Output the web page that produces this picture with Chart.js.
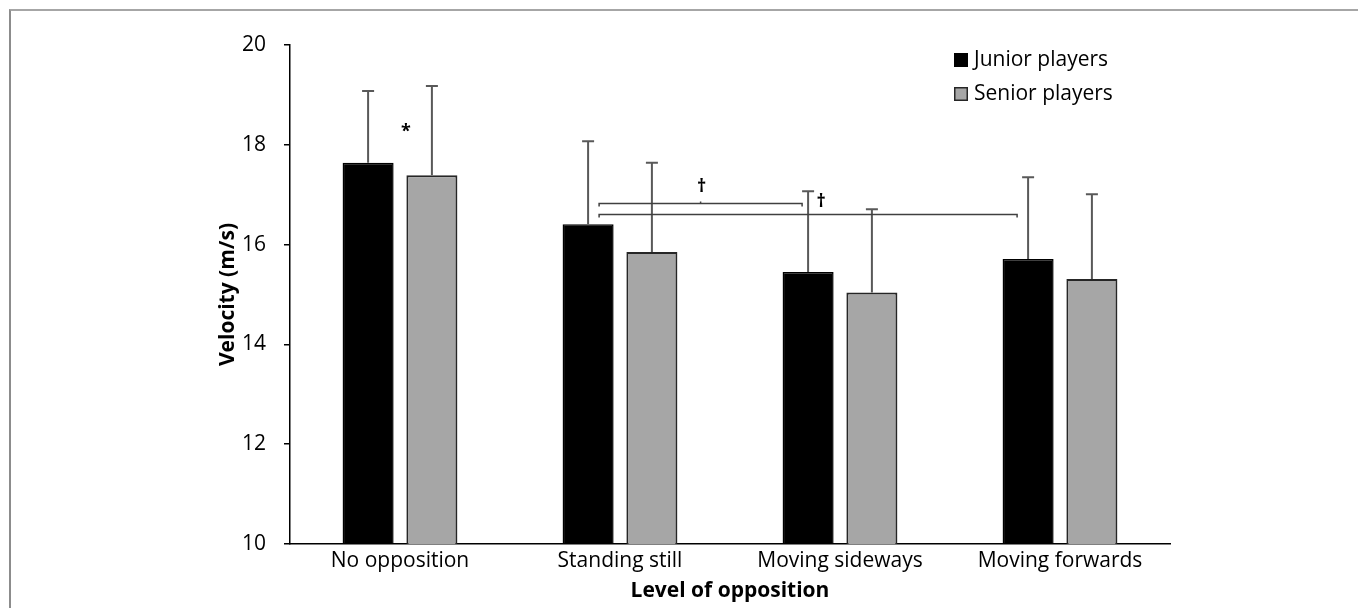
<!DOCTYPE html>
<html>
<head>
<meta charset="utf-8">
<script src="https://cdn.jsdelivr.net/npm/chart.js@4.4.1/dist/chart.umd.min.js"></script>
<style>
    html, body { margin: 0; padding: 0; background: #fff; }
    #wrap { position: relative; width: 1358px; height: 608px; overflow: hidden; }
    #frame { position: absolute; left: 9px; top: 9px; right: -20px; bottom: -20px; border-top: 2px solid #a6a6a6; border-left: 2px solid #8c8c8c; }
    #chart { position: absolute; left: 0; top: 0; }
</style>
</head>
<body>
<div id="wrap">
    <div id="frame"></div>
    <canvas id="chart" width="1358" height="608"></canvas>
</div>
<script>
    var categories = ["No opposition", "Standing still", "Moving sideways", "Moving forwards"];
    var juniorValues = [17.64, 16.41, 15.45, 15.71];
    var juniorErrors = [1.44, 1.66, 1.62, 1.64];
    var seniorValues = [17.39, 15.85, 15.04, 15.31];
    var seniorErrors = [1.79, 1.79, 1.67, 1.70];

    // significance brackets: from category, to category, y level
    var bracketFrom = [1, 1];
    var bracketTo = [2, 3];
    var bracketLevel = [16.83, 16.61];

    // significance markers
    var markerText = ["*", "\u2020", "\u2020"];
    var markerLevel = [18.30, 17.19, 16.89];

    var FONT = "'Open Sans', 'Noto Sans', sans-serif";
    var bracketEndInset = [6, 11];

    var errorBarsPlugin = {
        id: "errorBars",
        afterDatasetsDraw: function(chart) {
            var ctx = chart.ctx;
            var yScale = chart.scales.y;
            var errs = [juniorErrors, seniorErrors];
            ctx.save();
            ctx.strokeStyle = "#595959";
            ctx.lineWidth = 2;
            chart.data.datasets.forEach(function(ds, i) {
                var meta = chart.getDatasetMeta(i);
                meta.data.forEach(function(bar, j) {
                    var top = yScale.getPixelForValue(ds.data[j] + errs[i][j]);
                    ctx.beginPath();
                    ctx.moveTo(bar.x, bar.y);
                    ctx.lineTo(bar.x, top);
                    ctx.moveTo(bar.x - 6, top);
                    ctx.lineTo(bar.x + 6, top);
                    ctx.stroke();
                });
            });
            ctx.restore();
        }
    };

    var annotationsPlugin = {
        id: "annotations",
        afterDraw: function(chart) {
            var ctx = chart.ctx;
            var yScale = chart.scales.y;
            var xScale = chart.scales.x;
            var junior = chart.getDatasetMeta(0).data;
            var midX = 0;
            ctx.save();
            ctx.strokeStyle = "#404040";
            ctx.lineWidth = 1.5;
            for (var i = 0; i < bracketLevel.length; i++) {
                var x1 = junior[bracketFrom[i]].x + 11;
                var x2 = junior[bracketTo[i]].x - bracketEndInset[i];
                var y = Math.round(yScale.getPixelForValue(bracketLevel[i])) + 0.5;
                ctx.beginPath();
                ctx.moveTo(x1, y + 3);
                ctx.lineTo(x1, y);
                ctx.lineTo(x2, y);
                ctx.lineTo(x2, y + 3);
                if (i === 0) {
                    midX = (x1 + x2) / 2;
                    ctx.moveTo(midX, y);
                    ctx.lineTo(midX, y - 2);
                }
                ctx.stroke();
            }

            var markerX = [
                xScale.getPixelForValue(0) + 6,
                midX + 1,
                junior[2].x + 13
            ];
            ctx.fillStyle = "#000";
            ctx.textAlign = "center";
            ctx.textBaseline = "middle";
            ctx.font = "bold 18px " + FONT;
            for (var k = 0; k < markerText.length; k++) {
                ctx.fillText(markerText[k], markerX[k], yScale.getPixelForValue(markerLevel[k]) + 2);
            }

            // legend
            var labels = chart.data.datasets;
            ctx.font = "21px " + FONT;
            ctx.textAlign = "left";
            for (var n = 0; n < labels.length; n++) {
                var cy = 60 + n * 34;
                ctx.fillStyle = labels[n].backgroundColor;
                ctx.fillRect(954, cy - 7, 14, 14);
                ctx.strokeStyle = labels[n].borderColor;
                ctx.lineWidth = 1.5;
                ctx.strokeRect(954.75, cy - 6.25, 12.5, 12.5);
                ctx.fillStyle = "#000";
                ctx.fillText(labels[n].label, 974, cy);
            }
            ctx.restore();
        }
    };

    new Chart(document.getElementById("chart"), {
        type: "bar",
        data: {
            labels: categories,
            datasets: [{
                    label: "Junior players",
                    data: juniorValues,
                    backgroundColor: "#000000",
                    borderColor: "#000000",
                    borderWidth: 1.5
                },
                {
                    label: "Senior players",
                    data: seniorValues,
                    backgroundColor: "#a6a6a6",
                    borderColor: "#262626",
                    borderWidth: 2
                }
            ]
        },
        options: {
            responsive: false,
            animation: false,
            devicePixelRatio: 1,
            categoryPercentage: 0.58,
            barPercentage: 0.8,
            layout: {
                padding: { left: 210, right: 188, top: 45, bottom: 0 }
            },
            plugins: {
                legend: { display: false },
                tooltip: { enabled: false }
            },
            scales: {
                x: {
                    afterFit: function(scale) { scale.height = 64; },
                    grid: { display: false, drawTicks: false },
                    border: { display: true, color: "#000", width: 1.5 },
                    ticks: {
                        color: "#000",
                        padding: 4,
                        font: { family: FONT, size: 21 }
                    },
                    title: {
                        display: true,
                        text: "Level of opposition",
                        color: "#000",
                        padding: { top: 0, bottom: 4 },
                        font: { family: FONT, size: 21, weight: "bold" }
                    }
                },
                y: {
                    min: 10,
                    max: 20,
                    afterFit: function(scale) { scale.width = 80; },
                    grid: {
                        drawOnChartArea: false,
                        drawTicks: true,
                        tickLength: 6,
                        color: "#000",
                        lineWidth: 1.5
                    },
                    border: { display: true, color: "#000", width: 1.5 },
                    ticks: {
                        stepSize: 2,
                        color: "#000",
                        padding: 18,
                        font: { family: FONT, size: 21 }
                    },
                    title: {
                        display: true,
                        text: "Velocity (m/s)",
                        color: "#000",
                        padding: { top: 5, bottom: 0 },
                        font: { family: FONT, size: 21, weight: "bold" }
                    }
                }
            }
        },
        plugins: [errorBarsPlugin, annotationsPlugin]
    });
</script>
</body>
</html>
